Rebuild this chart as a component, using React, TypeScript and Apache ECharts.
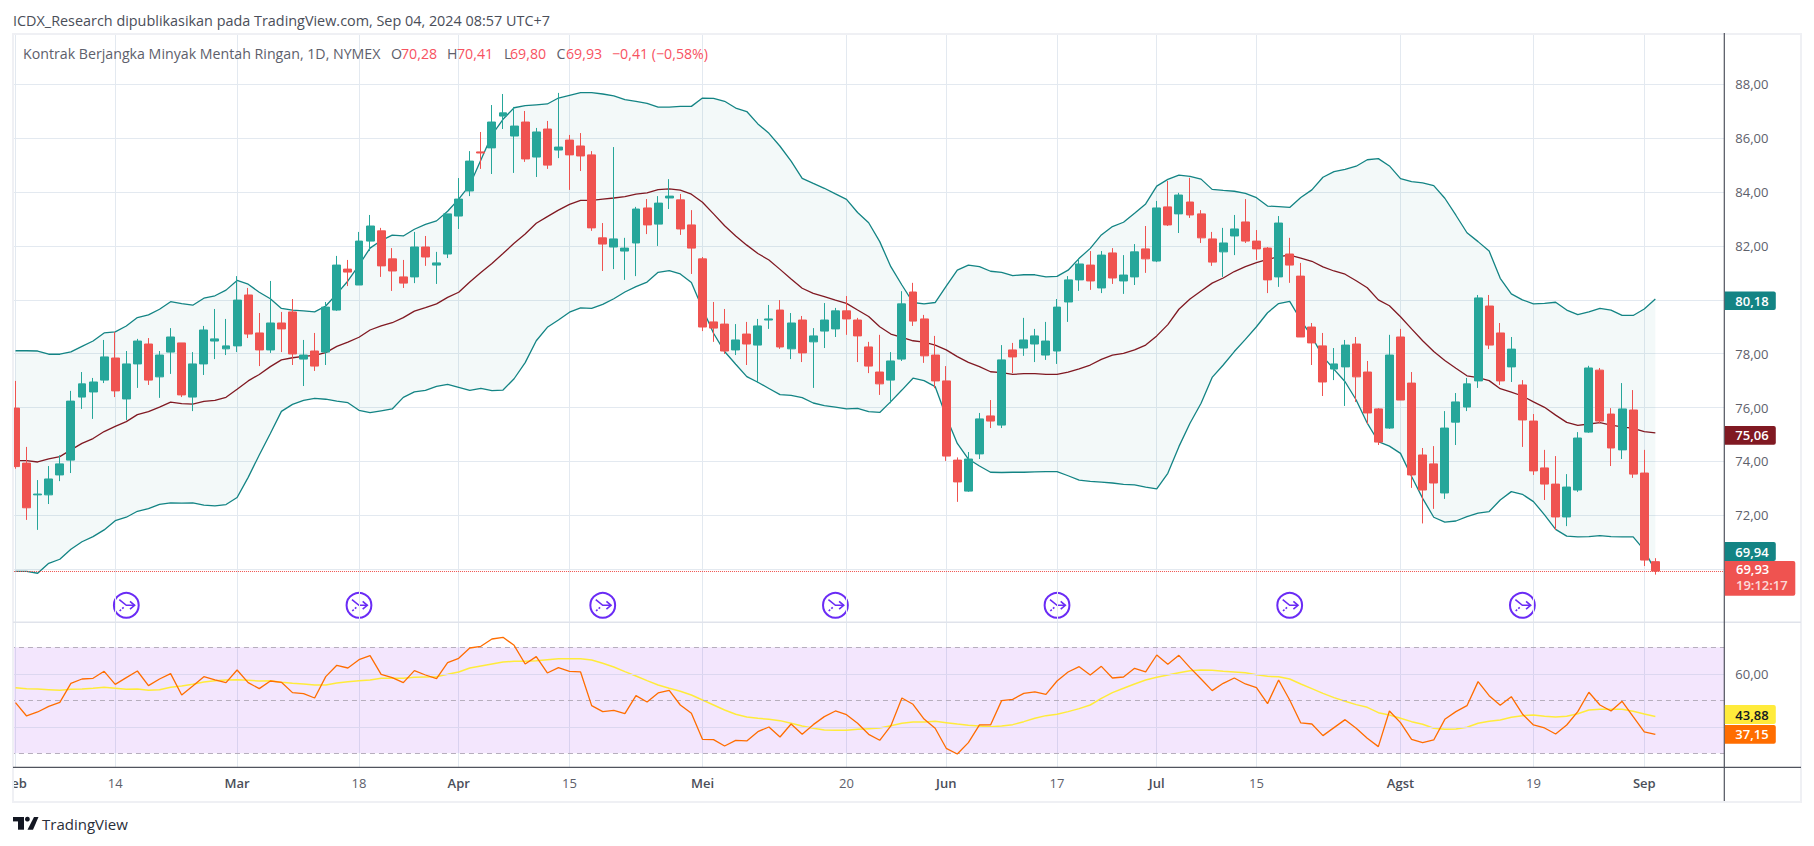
import React, { useEffect, useRef } from "react";
import * as echarts from "echarts";

const opens = [75.98,73.94,72.76,72.76,73.50,74.05,76.39,76.58,77.02,77.84,76.32,77.62,78.36,77.14,78.06,78.40,76.39,77.62,78.47,78.18,78.29,80.18,78.77,78.14,79.14,79.55,77.80,78.10,78.06,79.62,81.14,80.55,82.18,82.56,81.52,80.85,80.85,81.96,81.29,81.70,83.11,84.04,85.49,85.64,86.82,86.08,86.60,85.30,86.34,85.56,85.93,85.71,85.38,82.30,81.96,81.81,82.11,83.41,82.81,83.78,83.71,82.78,81.52,79.18,79.10,78.14,78.73,78.32,79.25,79.62,78.18,79.25,78.44,78.84,78.92,79.59,79.25,78.25,77.32,77.02,77.80,80.29,79.29,77.95,76.99,74.05,72.90,74.28,75.69,75.35,78.14,78.21,78.36,77.95,78.10,79.92,80.74,81.29,80.44,81.74,80.70,80.85,81.89,81.44,83.45,83.19,83.63,83.19,82.26,81.78,82.37,82.89,82.18,81.92,80.85,81.70,80.88,78.99,78.29,77.43,77.51,78.36,77.32,75.95,75.24,78.62,76.91,74.24,73.91,72.83,75.46,76.02,76.99,79.77,78.77,77.51,76.84,75.50,73.76,73.16,71.94,72.94,75.09,77.39,75.76,74.43,75.91,73.57,70.28];
const closes = [73.81,72.28,72.79,73.35,73.91,76.24,76.88,76.95,77.88,76.62,77.62,78.47,77.02,77.95,78.62,76.47,77.62,78.88,78.55,78.29,79.99,78.73,78.14,79.14,78.92,77.99,77.95,77.54,79.73,81.29,81.03,82.18,82.74,81.26,81.07,80.62,81.96,81.59,81.37,83.19,83.74,85.15,85.45,86.60,86.94,86.45,85.23,86.23,85.00,85.67,85.38,85.34,82.67,82.07,82.26,81.92,83.37,82.78,83.59,83.85,82.63,81.92,78.99,78.95,78.10,78.51,78.36,79.03,79.29,78.25,79.14,78.03,78.66,79.25,79.59,79.29,78.66,77.54,76.88,77.73,79.85,79.21,77.92,76.99,74.20,73.24,74.09,75.58,75.50,77.77,77.88,78.51,78.66,78.47,79.73,80.74,81.33,80.70,81.66,80.81,80.92,81.78,81.52,83.41,82.78,83.89,83.15,82.30,81.40,82.11,82.63,82.18,81.89,80.74,82.85,81.29,78.62,78.40,76.95,77.62,78.32,77.14,75.80,74.72,77.95,76.28,73.50,72.94,73.20,75.24,76.21,76.88,80.07,78.32,76.99,78.17,75.54,73.65,73.16,71.94,73.05,74.87,77.47,75.50,74.50,75.95,73.53,70.34,69.93];
const highs = [76.99,74.54,73.31,73.83,74.23,76.62,77.32,77.10,78.51,78.81,78.10,78.55,78.58,78.10,78.95,78.40,78.06,79.03,79.66,79.29,80.88,80.44,79.51,80.70,79.55,80.03,78.51,78.77,79.92,81.63,81.48,82.52,83.15,82.67,81.92,81.48,82.52,82.37,81.78,83.19,84.52,85.52,86.23,87.23,87.64,87.16,87.01,86.38,86.64,87.68,86.12,86.19,85.52,82.85,85.67,82.30,83.45,83.74,83.85,84.48,83.93,83.33,81.59,79.92,79.66,79.10,79.18,79.29,79.81,79.99,79.51,79.40,78.95,79.88,79.70,80.14,79.33,78.44,78.70,78.06,80.32,80.63,79.44,78.66,77.54,74.15,74.35,75.80,76.28,78.32,78.40,79.33,78.92,79.18,80.03,80.88,81.55,81.81,81.81,81.92,81.66,82.07,82.74,83.67,84.41,83.97,84.53,83.33,82.52,82.67,83.15,83.74,82.59,81.96,83.11,82.30,81.37,79.14,78.77,78.21,78.51,78.62,77.73,75.98,78.70,78.92,77.32,74.50,74.57,75.87,76.54,77.10,80.18,80.18,79.14,78.62,77.02,75.76,74.43,74.20,73.53,75.09,77.55,77.47,75.98,76.91,76.65,74.43,70.41];
const lows = [73.73,71.83,71.46,72.42,73.27,73.57,75.95,75.58,76.91,76.39,75.54,76.73,76.84,76.36,77.25,76.39,75.87,77.21,77.80,77.95,78.06,78.58,77.54,78.03,78.06,77.58,76.80,77.36,77.58,79.59,80.51,80.55,81.81,80.85,80.33,80.44,80.62,81.26,80.59,81.55,82.63,83.85,84.86,84.67,86.34,84.71,85.12,84.56,84.86,85.26,84.08,84.78,82.56,81.07,81.14,80.74,80.88,82.44,82.00,83.37,82.41,80.96,78.84,78.44,77.99,77.95,77.58,76.91,78.92,78.18,77.80,77.69,76.73,78.21,78.62,78.70,77.69,77.28,76.47,76.16,77.73,79.03,77.66,76.72,74.02,72.50,72.87,74.09,75.24,75.24,77.28,77.92,77.69,77.77,77.62,79.18,80.33,80.37,80.25,80.59,80.22,80.55,81.00,81.40,82.74,82.48,83.04,82.11,81.26,80.85,81.66,82.11,81.48,80.25,80.48,80.63,78.62,77.58,76.43,77.02,76.06,76.21,75.39,74.61,75.21,76.28,73.02,71.70,72.24,72.61,74.61,75.87,76.73,78.17,76.84,76.95,74.54,73.50,72.57,71.46,71.60,72.87,75.06,75.43,73.83,74.09,73.39,70.12,69.80];

const upperBand = [78.11,78.11,78.10,77.98,77.98,78.07,78.27,78.47,78.77,78.81,79.03,79.34,79.44,79.65,79.93,79.86,79.80,80.06,80.15,80.36,80.72,80.58,80.28,80.04,79.68,79.62,79.59,79.55,79.77,80.22,80.70,81.29,81.92,82.20,82.40,82.37,82.62,82.80,82.93,83.29,83.74,84.26,85.19,86.12,86.70,87.13,87.21,87.24,87.27,87.49,87.59,87.69,87.69,87.64,87.57,87.43,87.37,87.29,87.15,87.15,87.18,87.18,87.49,87.48,87.37,87.12,86.99,86.53,86.18,85.70,85.15,84.51,84.32,84.14,83.93,83.73,83.24,82.86,82.16,81.23,80.55,79.90,79.85,79.90,80.51,81.10,81.29,81.23,81.06,81.02,80.90,80.93,80.93,80.85,80.87,81.10,81.54,81.91,82.41,82.72,82.88,83.21,83.56,84.22,84.47,84.63,84.58,84.48,84.10,84.06,84.03,83.95,83.79,83.48,83.46,83.43,83.80,84.08,84.55,84.76,84.84,84.96,85.20,85.24,84.97,84.50,84.39,84.34,84.24,83.77,83.14,82.49,82.16,81.81,80.80,80.22,80.00,79.85,79.87,79.91,79.62,79.45,79.55,79.68,79.62,79.42,79.42,79.66,80.03];
const basisBand = [74.03,74.03,73.98,74.10,74.18,74.43,74.67,74.85,75.11,75.30,75.48,75.74,75.85,76.02,76.20,76.15,76.13,76.23,76.27,76.38,76.68,76.99,77.23,77.52,77.77,77.85,77.90,77.94,78.04,78.27,78.43,78.61,78.88,79.03,79.15,79.34,79.58,79.71,79.85,80.09,80.28,80.66,81.01,81.35,81.72,82.10,82.44,82.84,83.09,83.33,83.54,83.69,83.69,83.74,83.78,83.83,83.92,83.97,84.09,84.12,84.07,83.92,83.62,83.19,82.75,82.37,82.03,81.72,81.48,81.13,80.77,80.43,80.24,80.12,79.99,79.87,79.62,79.38,79.00,78.73,78.61,78.48,78.43,78.32,78.14,77.89,77.68,77.52,77.33,77.30,77.23,77.26,77.26,77.23,77.23,77.32,77.44,77.58,77.79,77.95,78.01,78.14,78.32,78.66,79.08,79.65,80.03,80.33,80.62,80.81,81.05,81.23,81.38,81.50,81.60,81.66,81.55,81.43,81.22,81.07,80.95,80.71,80.45,80.00,79.78,79.37,78.92,78.48,78.08,77.75,77.46,77.18,77.11,77.00,76.70,76.57,76.43,76.21,76.01,75.72,75.45,75.34,75.39,75.44,75.35,75.28,75.23,75.11,75.06];
const lowerBand = [69.92,69.92,69.85,70.22,70.37,70.74,71.02,71.21,71.46,71.80,71.93,72.15,72.25,72.41,72.46,72.45,72.46,72.38,72.35,72.40,72.66,73.41,74.24,75.04,75.86,76.12,76.27,76.34,76.31,76.24,76.18,75.90,75.81,75.88,75.95,76.38,76.58,76.64,76.79,76.86,76.75,76.64,76.71,76.63,76.65,77.07,77.67,78.48,78.98,79.25,79.54,79.70,79.68,79.83,80.04,80.29,80.49,80.66,81.02,81.08,80.96,80.64,79.68,78.76,78.08,77.61,77.15,76.94,76.71,76.48,76.45,76.37,76.17,76.07,76.02,75.95,75.97,75.85,75.82,76.22,76.65,77.09,77.00,76.78,75.66,74.67,74.09,73.83,73.60,73.59,73.60,73.60,73.61,73.62,73.62,73.47,73.31,73.26,73.23,73.20,73.15,73.13,73.05,72.98,73.56,74.55,75.42,76.16,77.12,77.58,78.08,78.53,79.00,79.52,79.86,79.94,79.25,78.63,77.89,77.42,76.96,76.28,75.42,74.74,74.57,74.30,73.44,72.63,71.93,71.75,71.79,71.95,72.08,72.14,72.57,72.88,72.78,72.51,72.02,71.48,71.23,71.20,71.21,71.25,71.21,71.20,71.20,70.71,69.94];

const rsiValues = [49.10,44.07,45.58,47.72,49.23,56.40,58.03,58.29,60.93,56.02,58.54,61.05,55.52,58.03,60.05,52.00,55.39,58.91,57.66,56.65,61.43,56.65,54.39,57.28,56.78,52.88,52.50,50.86,58.91,63.19,62.18,65.33,66.84,59.79,58.54,56.65,61.18,59.54,58.16,64.20,65.83,69.73,70.36,73.13,73.76,70.74,63.69,66.46,60.30,62.31,60.93,60.68,47.97,45.71,46.21,44.95,51.74,49.35,52.75,53.76,48.22,45.08,35.27,35.14,32.75,34.89,34.64,38.16,39.92,36.15,41.05,37.15,40.80,43.82,45.96,44.57,41.30,37.15,34.89,40.30,50.86,48.48,42.90,39.42,31.87,29.73,34.01,40.68,40.68,49.86,50.36,52.62,53.13,52.25,57.28,60.68,62.69,59.54,62.81,58.41,58.79,62.06,60.68,67.09,63.57,66.96,62.31,58.03,53.63,56.40,58.41,56.15,54.76,48.73,57.66,50.11,41.43,41.05,36.65,39.67,42.69,39.42,35.64,32.50,45.96,41.56,35.27,34.01,35.02,42.81,45.71,47.97,57.03,51.74,48.10,51.37,44.83,40.68,39.55,37.28,40.68,45.71,53.01,48.23,45.96,49.61,43.82,38.04,37.15];
const rsiMaValues = [54.76,54.39,54.26,54.01,53.76,54.13,54.26,54.51,54.89,54.51,54.13,54.26,53.76,54.01,54.89,55.39,56.02,56.90,57.41,57.66,57.78,57.53,57.28,57.41,56.78,56.40,56.15,55.77,55.77,56.52,57.03,57.41,57.66,58.29,58.29,58.29,58.66,58.79,58.91,59.79,60.68,62.19,62.94,63.69,64.45,64.70,64.70,64.95,65.33,65.71,65.71,65.71,65.20,63.95,62.56,60.80,59.17,57.41,55.77,54.51,53.38,51.99,50.11,48.22,46.33,44.70,43.70,43.19,42.81,42.31,41.30,40.30,39.42,38.79,38.66,38.66,39.04,39.29,39.54,40.42,41.30,41.81,41.81,42.06,41.56,41.05,40.55,40.30,40.05,40.30,40.80,41.93,43.19,44.20,44.70,45.71,46.84,48.22,50.74,52.88,54.51,56.15,57.66,58.66,59.54,60.42,61.18,61.43,61.30,60.93,60.68,60.42,59.67,59.04,58.91,58.03,56.15,54.39,52.62,50.99,49.61,48.35,47.34,45.33,44.45,43.19,41.93,40.93,39.42,39.04,39.17,39.80,41.30,42.06,42.56,43.57,44.20,44.45,43.95,43.70,43.95,44.90,46.30,46.59,46.59,46.59,45.84,44.83,43.88];

const tickIndices = [0, 9, 20, 31, 40, 50, 62, 75, 84, 94, 103, 112, 125, 137, 147];
const tickLabels = ["Feb", "14", "Mar", "18", "Apr", "15", "Mei", "20", "Jun", "17", "Jul", "15", "Agst", "19", "Sep"];
const eventIndices = [10, 31, 53, 74, 94, 115, 136];
const hiddenPriceLabels = [68, 70, 80, 90];
const lastPrice = 69.93;

const titleText = "ICDX_Research dipublikasikan pada TradingView.com, Sep 04, 2024 08:57 UTC+7";
const legendName = "Kontrak Berjangka Minyak Mentah Ringan, 1D, NYMEX";
const legendValues = [
  { key: "O", value: "70,28", x: 391, vx: 401 },
  { key: "H", value: "70,41", x: 447, vx: 457 },
  { key: "L", value: "69,80", x: 504, vx: 510 },
  { key: "C", value: "69,93", x: 556.5, vx: 566 },
];
const legendChange = "\u22120,41 (\u22120,58%)";

const priceTags = [
  { text: "80,18", top: 291.5, h: 18.5, fill: "#138484", color: "#ffffff" },
  { text: "75,06", top: 426, h: 18.7, fill: "#801922", color: "#ffffff" },
  { text: "69,94", top: 542, h: 19, fill: "#138484", color: "#ffffff" },
  { text: "43,88", top: 705, h: 19, fill: "#ffeb3b", color: "#131722" },
  { text: "37,15", top: 725, h: 18.7, fill: "#ff6d00", color: "#ffffff" },
];

const FONT = '"Open Sans", sans-serif';
const GRID_LINE = "#e3e9f0";
const AXIS_DARK = "#50535e";
const FRAME = "#eff0f4";
const BAND = 11.08;
const GRID_LEFT = 9.96;
const BARS = 155;
const GRID_WIDTH = BAND * BARS;

const tickSet = new Set(tickIndices);
const months = new Set(["Feb", "Mar", "Apr", "Mei", "Jun", "Jul", "Agst", "Sep"]);
const categories: string[] = Array.from({ length: BARS }, (_, i) => {
  const k = tickIndices.indexOf(i);
  return k >= 0 ? tickLabels[k] : "";
});
const candles = opens.map((o, i) => [o, closes[i], lows[i], highs[i]]);

echarts.graphic.registerShape(
  "tvSlash",
  echarts.graphic.extendPath("M6.5 0H11L5.5 12.7H0Z", {})
);

function eventIcon(i: number) {
  const cx = GRID_LEFT + BAND * (i + 0.5);
  const cy = 605.3;
  const stroke = { stroke: "#6a2bf5", lineWidth: 1.6, fill: "none" };
  return {
    type: "group",
    x: cx,
    y: cy,
    z: 60,
    silent: true,
    children: [
      { type: "circle", shape: { cx: 0, cy: 0, r: 12.4 }, style: { fill: "#fff", stroke: "#6a2bf5", lineWidth: 2 } },
      { type: "polyline", shape: { points: [[-7, -5.6], [0, 0], [8.3, 0]] }, style: stroke },
      { type: "polyline", shape: { points: [[3.7, -3.9], [8.3, 0], [3.7, 3.9]] }, style: stroke },
      { type: "line", shape: { x1: -6.7, y1: 5.7, x2: -2.3, y2: 1.7 }, style: { stroke: "#6a2bf5", lineWidth: 1.6, lineDash: [2, 1.5] } },
    ],
  };
}

function txt(text: string, x: number, y: number, fill: string, size = 13, weight: any = 400, align: any = "left") {
  return {
    type: "text",
    x,
    y,
    z: 90,
    silent: true,
    style: { text, fill, font: `${weight} ${size}px ${FONT}`, textAlign: align, textVerticalAlign: "middle" },
  };
}

function buildGraphics() {
  const els: any[] = [];
  const cover = (x: number, y: number, width: number, height: number) =>
    els.push({ type: "rect", z: 50, silent: true, shape: { x, y, width, height }, style: { fill: "#ffffff" } });
  cover(0, 0, 1814, 33);
  cover(0, 33, 12.5, 780);
  cover(1724.5, 33, 4.5, 734);

  els.push({ type: "rect", z: 55, silent: true, shape: { x: 13, y: 34, width: 1788, height: 768 }, style: { fill: "none", stroke: FRAME, lineWidth: 2 } });
  els.push({ type: "line", z: 56, silent: true, shape: { x1: 13, y1: 622.3, x2: 1801, y2: 622.3 }, style: { stroke: "#e0e3eb", lineWidth: 1.6 } });
  els.push({ type: "line", z: 57, silent: true, shape: { x1: 13, y1: 767.3, x2: 1801, y2: 767.3 }, style: { stroke: AXIS_DARK, lineWidth: 1.2 } });
  els.push({ type: "line", z: 57, silent: true, shape: { x1: 1724.3, y1: 33, x2: 1724.3, y2: 801 }, style: { stroke: AXIS_DARK, lineWidth: 1.2 } });

  eventIndices.forEach((i) => els.push(eventIcon(i)));

  els.push(txt(titleText, 13, 20, "#4a4e59", 14.4));
  els.push(txt(legendName, 23, 53, "#5d606b", 14.2));
  legendValues.forEach((v) => {
    els.push(txt(v.key, v.x, 53, "#5d606b", 14.2));
    els.push(txt(v.value, v.vx, 53, "#f7525f", 14.2));
  });
  els.push(txt(legendChange, 612, 53, "#f7525f", 14.2));

  priceTags.forEach((t) => {
    els.push({ type: "rect", z: 80, silent: true, shape: { x: 1724.8, y: t.top, width: 51, height: t.h, r: [0, 2, 2, 0] }, style: { fill: t.fill } });
    els.push(txt(t.text, 1752, t.top + t.h / 2, t.color, 13, 600, "center"));
  });
  els.push({ type: "rect", z: 80, silent: true, shape: { x: 1724.8, y: 561, width: 70.5, height: 34.7, r: [0, 2, 2, 0] }, style: { fill: "#ef5350" } });
  els.push(txt("69,93", 1736, 569, "#ffffff", 13, 600));
  els.push(txt("19:12:17", 1736, 585, "rgba(255,255,255,0.8)", 13, 600));

  els.push({ type: "rect", z: 90, silent: true, shape: { x: 13, y: 817, width: 11, height: 4.4 }, style: { fill: "#131722" } });
  els.push({ type: "rect", z: 90, silent: true, shape: { x: 18, y: 817, width: 6, height: 12.7 }, style: { fill: "#131722" } });
  els.push({ type: "circle", z: 90, silent: true, shape: { cx: 27.4, cy: 819.2, r: 2.4 }, style: { fill: "#131722" } });
  els.push({ type: "tvSlash", z: 90, silent: true, x: 27.5, y: 817, style: { fill: "#131722" } });
  els.push(txt("TradingView", 42, 824, "#2a2e39", 15));
  return els;
}

const splitVertical = {
  show: true,
  alignWithLabel: true,
  interval: (i: number) => tickSet.has(i),
  lineStyle: { color: GRID_LINE, width: 1 },
};

export default function App() {
  const ref = useRef<HTMLDivElement>(null);
  useEffect(() => {
    const chart = echarts.init(ref.current!, undefined, { renderer: "svg" });
    chart.setOption({
      animation: false,
      backgroundColor: "#ffffff",
      textStyle: { fontFamily: FONT },
      grid: [
        { left: GRID_LEFT, top: 30.42, width: GRID_WIDTH, height: 592.68 },
        { left: GRID_LEFT, top: 622.3, width: GRID_WIDTH, height: 145 },
      ],
      xAxis: [
        {
          type: "category",
          gridIndex: 0,
          data: categories,
          axisLine: { show: false },
          axisTick: { show: false },
          axisLabel: { show: false },
          splitLine: splitVertical,
        },
        {
          type: "category",
          gridIndex: 1,
          data: categories,
          axisLine: { show: false },
          axisTick: { show: false },
          splitLine: splitVertical,
          axisLabel: {
            show: true,
            interval: (i: number) => tickSet.has(i),
            margin: 9,
            hideOverlap: false,
            formatter: (v: string) => (months.has(v) ? `{m|${v}}` : `{d|${v}}`),
            rich: {
              m: { fontFamily: FONT, fontSize: 13, fontWeight: 600, color: "#4a4e59" },
              d: { fontFamily: FONT, fontSize: 13, fontWeight: 400, color: "#5d606b" },
            },
          },
        },
      ],
      yAxis: [
        {
          type: "value",
          gridIndex: 0,
          position: "right",
          min: 68,
          max: 90,
          interval: 2,
          axisLine: { show: false },
          axisTick: { show: false },
          axisLabel: {
            margin: 8,
            color: "#5d606b",
            fontFamily: FONT,
            fontSize: 13,
            padding: [0, 0, 5, 0],
            formatter: (v: number) => (hiddenPriceLabels.includes(v) ? "" : v.toFixed(2).replace(".", ",")),
          },
          splitLine: { show: true, showMinLine: false, showMaxLine: false, lineStyle: { color: GRID_LINE, width: 1 } },
        },
        {
          type: "value",
          gridIndex: 1,
          position: "right",
          min: 24.7,
          max: 79.43,
          axisLine: { show: false },
          axisTick: { show: false },
          splitLine: { show: false },
          axisLabel: {
            margin: 8,
            color: "#5d606b",
            fontFamily: FONT,
            fontSize: 13,
            padding: [0, 0, 5, 0],
            customValues: [60],
            formatter: (v: number) => v.toFixed(2).replace(".", ","),
          },
        },
      ],
      series: [
        {
          type: "custom",
          xAxisIndex: 0,
          yAxisIndex: 0,
          z: 1,
          silent: true,
          data: [[0, upperBand[0]]],
          renderItem: (_p: any, api: any) => {
            const top = upperBand.map((v, i) => api.coord([i, v]));
            const bottom = lowerBand.map((v, i) => api.coord([i, v])).reverse();
            return {
              type: "polygon",
              shape: { points: top.concat(bottom) },
              style: { fill: "rgba(19,132,132,0.05)", stroke: "none" },
            };
          },
        },
        { type: "line", xAxisIndex: 0, yAxisIndex: 0, z: 2, data: upperBand, symbol: "none", silent: true, lineStyle: { color: "#138484", width: 1.3 } },
        { type: "line", xAxisIndex: 0, yAxisIndex: 0, z: 2, data: lowerBand, symbol: "none", silent: true, lineStyle: { color: "#138484", width: 1.3 } },
        { type: "line", xAxisIndex: 0, yAxisIndex: 0, z: 2, data: basisBand, symbol: "none", silent: true, lineStyle: { color: "#801922", width: 1.3 } },
        {
          type: "candlestick",
          xAxisIndex: 0,
          yAxisIndex: 0,
          z: 3,
          barWidth: 8.4,
          data: candles,
          silent: true,
          itemStyle: { color: "#26a69a", color0: "#ef5350", borderColor: "#26a69a", borderColor0: "#ef5350", borderWidth: 1 },
          markLine: {
            silent: true,
            symbol: "none",
            label: { show: false },
            lineStyle: { color: "#ef5350", type: "dotted", width: 1 },
            data: [{ yAxis: lastPrice }],
          },
        },
        {
          type: "line",
          xAxisIndex: 1,
          yAxisIndex: 1,
          z: 4,
          data: rsiMaValues,
          symbol: "none",
          silent: true,
          lineStyle: { color: "#ffeb3b", width: 1.5 },
          markArea: {
            silent: true,
            itemStyle: { color: "rgba(135,5,235,0.1)" },
            data: [[{ yAxis: 70 }, { yAxis: 30 }]],
          },
          markLine: {
            silent: true,
            symbol: "none",
            label: { show: false },
            data: [
              { yAxis: 70, lineStyle: { color: "#b6aebd", type: [5, 4], width: 1 } },
              { yAxis: 60, lineStyle: { color: "#dcd7f0", type: "solid", width: 1 } },
              { yAxis: 50, lineStyle: { color: "#b6aebd", type: [5, 4], width: 1 } },
              { yAxis: 40, lineStyle: { color: "#dcd7f0", type: "solid", width: 1 } },
              { yAxis: 30, lineStyle: { color: "#b6aebd", type: [5, 4], width: 1 } },
            ],
          },
        },
        { type: "line", xAxisIndex: 1, yAxisIndex: 1, z: 5, data: rsiValues, symbol: "none", silent: true, lineStyle: { color: "#ff6d00", width: 1.3 } },
      ],
      graphic: { elements: buildGraphics() },
    });
    return () => chart.dispose();
  }, []);
  return (
    <div
      ref={ref}
      style={{ position: "fixed", left: 0, top: 0, width: 1814, height: 846, background: "#ffffff" }}
    />
  );
}
